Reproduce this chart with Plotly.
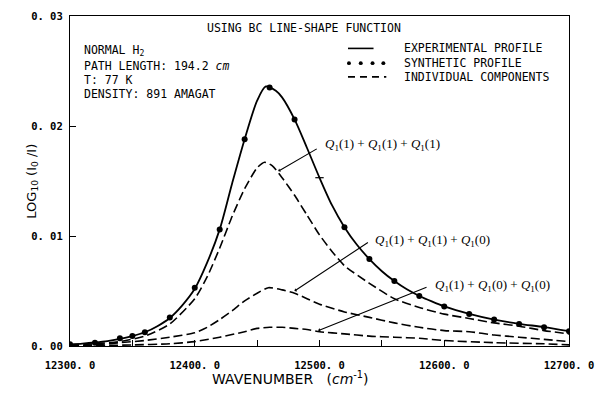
import plotly.graph_objects as go

# Experimental absorption profile (solid curve)
wn_exp = [12300, 12310, 12320, 12330, 12340, 12350, 12360, 12370, 12380, 12390,
          12400, 12410, 12420, 12430, 12440, 12450, 12457, 12465, 12470, 12480,
          12490, 12500, 12510, 12520, 12530, 12540, 12550, 12560, 12570, 12580,
          12590, 12600, 12620, 12640, 12660, 12680, 12700]
absorb_exp = [0.00015, 0.00022, 0.00032, 0.00045, 0.00065, 0.00090, 0.00125, 0.00180, 0.00255, 0.00370,
              0.00520, 0.00760, 0.01060, 0.01480, 0.01880, 0.02230, 0.02360, 0.02320, 0.02260, 0.02060,
              0.01800, 0.01530, 0.01280, 0.01080, 0.00920, 0.00790, 0.00680, 0.00590, 0.00515, 0.00455,
              0.00405, 0.00360, 0.00292, 0.00240, 0.00202, 0.00172, 0.00135]

# Synthetic profile (dots)
wn_syn = [12300, 12320, 12340, 12350, 12360, 12380, 12400, 12420, 12440, 12460, 12480,
          12520, 12540, 12560, 12580, 12600, 12620, 12640, 12660, 12680, 12700]
absorb_syn = [0.00015, 0.00030, 0.00070, 0.00090, 0.00125, 0.00260, 0.00530, 0.01060, 0.01880, 0.02350, 0.02060,
              0.01080, 0.00790, 0.00590, 0.00455, 0.00360, 0.00290, 0.00240, 0.00200, 0.00170, 0.00134]
# synthetic point at 12500 drawn as a short tick on the curve
wn_syn_tick = [12500]
absorb_syn_tick = [0.01530]

# Individual components (dashed)
wn_c1 = [12300, 12320, 12340, 12360, 12380, 12400, 12410, 12420, 12430, 12440, 12450, 12456,
         12462, 12470, 12480, 12490, 12500, 12510, 12520, 12540, 12560, 12580, 12600, 12620,
         12640, 12660, 12680, 12700]
absorb_c1 = [0.0001, 0.0002, 0.0004, 0.0009, 0.0020, 0.0043, 0.0063, 0.0089, 0.0118, 0.0143, 0.0162, 0.0167,
             0.0164, 0.0153, 0.0137, 0.0119, 0.0101, 0.0086, 0.0073, 0.0057, 0.0043, 0.0035, 0.0029, 0.0025,
             0.0021, 0.0018, 0.0014, 0.0011]

wn_c2 = [12300, 12320, 12340, 12360, 12380, 12400, 12410, 12420, 12430, 12440, 12450, 12459,
         12470, 12480, 12490, 12500, 12520, 12540, 12560, 12580, 12600, 12620, 12640, 12660,
         12680, 12700]
absorb_c2 = [0.0000, 0.0001, 0.0003, 0.0005, 0.0008, 0.0012, 0.0017, 0.0024, 0.0032, 0.0041, 0.0048, 0.0053,
             0.0051, 0.0048, 0.0043, 0.0038, 0.0031, 0.0026, 0.0021, 0.0017, 0.0014, 0.0013, 0.0010, 0.0008,
             0.0006, 0.0004]

wn_c3 = [12300, 12350, 12380, 12400, 12420, 12440, 12450, 12460, 12470, 12480, 12490, 12500,
         12520, 12540, 12560, 12580, 12600, 12640, 12680, 12700]
absorb_c3 = [0.0000, 0.0001, 0.0002, 0.0004, 0.0008, 0.0013, 0.0016, 0.0017, 0.0017, 0.0016, 0.0015, 0.0013,
             0.0011, 0.0009, 0.0008, 0.0007, 0.0005, 0.0003, 0.0002, 0.0001]

x_tick_vals = [12300, 12350, 12400, 12450, 12500, 12550, 12600, 12650, 12700]
x_tick_text = ["12300. 0", "", "12400. 0", "", "12500. 0", "", "12600. 0", "", "12700. 0"]
y_tick_vals = [0.00, 0.01, 0.02, 0.03]
y_tick_text = ["0. 00", "0. 01", "0. 02", "0. 03"]

component_labels = [
    "<i>Q</i><sub>1</sub>(1) + <i>Q</i><sub>1</sub>(1) + <i>Q</i><sub>1</sub>(1)",
    "<i>Q</i><sub>1</sub>(1) + <i>Q</i><sub>1</sub>(1) + <i>Q</i><sub>1</sub>(0)",
    "<i>Q</i><sub>1</sub>(1) + <i>Q</i><sub>1</sub>(0) + <i>Q</i><sub>1</sub>(0)",
]
# leader lines: (tail x, tail y, head x, head y) and label anchor (x, y)
leaders = [
    (12499, 0.0180, 12467, 0.0159),
    (12540, 0.0095, 12480, 0.0050),
    (12587, 0.0054, 12499, 0.0014),
]
label_pos = [(12503, 0.0183), (12543, 0.0096), (12591, 0.0055)]

MONO = "DejaVu Sans Mono"
SERIF = "Liberation Serif"
W, H = 604, 393
ML, MR, MT, MB = 70, 26, 10, 47
PW, PH = W - ML - MR, H - MT - MB


def px(xp):
    return (xp - ML) / PW


def py(yp):
    return (H - MB - yp) / PH


fig = go.Figure()

dash = "9px,4px"
for wx, wy in [(wn_c1, absorb_c1), (wn_c2, absorb_c2), (wn_c3, absorb_c3)]:
    fig.add_trace(go.Scatter(x=wx, y=wy, mode="lines",
                             line=dict(color="black", width=1.6, dash=dash, shape="spline", smoothing=0.6),
                             showlegend=False, hoverinfo="skip"))

fig.add_trace(go.Scatter(x=wn_exp, y=absorb_exp, mode="lines",
                         line=dict(color="black", width=1.8, shape="spline", smoothing=0.8),
                         showlegend=False))
fig.add_trace(go.Scatter(x=wn_syn, y=absorb_syn, mode="markers",
                         marker=dict(color="black", size=6), showlegend=False))
fig.add_trace(go.Scatter(x=wn_syn_tick, y=absorb_syn_tick, mode="markers",
                         marker=dict(symbol="line-ew", size=6, line=dict(color="black", width=1.2)),
                         showlegend=False))

annotations = []
for (tx, ty, hx, hy), (lx, ly), lab in zip(leaders, label_pos, component_labels):
    annotations.append(dict(x=hx, y=hy, ax=tx, ay=ty, xref="x", yref="y", axref="x", ayref="y",
                            text="", showarrow=True, arrowhead=1, arrowsize=0.6, arrowwidth=1.1,
                            arrowcolor="black", standoff=0, startstandoff=0))
    annotations.append(dict(x=lx, y=ly, xref="x", yref="y", text=lab, showarrow=False,
                            xanchor="left", yanchor="middle",
                            font=dict(family=SERIF, size=13, color="black")))

# header and run conditions
annotations.append(dict(x=px(308), y=py(22), xref="paper", yref="paper",
                        text="USING BC LINE-SHAPE FUNCTION", showarrow=False,
                        xanchor="center", yanchor="middle", font=dict(family=MONO, size=11.5, color="black")))
info = [("NORMAL H<sub>2</sub>", 45), ("PATH LENGTH: 194.2 <i>cm</i>", 61),
        ("T: 77 K", 75), ("DENSITY: 891 AMAGAT", 89)]
for txt, yy in info:
    annotations.append(dict(x=px(82), y=py(yy), xref="paper", yref="paper", text=txt,
                            showarrow=False, xanchor="left", yanchor="middle",
                            font=dict(family=MONO, size=11.5, color="black")))

# key
key = [("EXPERIMENTAL PROFILE", 43), ("SYNTHETIC PROFILE", 58), ("INDIVIDUAL COMPONENTS", 72)]
for txt, yy in key:
    annotations.append(dict(x=px(408), y=py(yy), xref="paper", yref="paper", text=txt,
                            showarrow=False, xanchor="left", yanchor="middle",
                            font=dict(family=MONO, size=11.5, color="black")))

shapes = [
    dict(type="line", xref="paper", yref="paper", x0=px(353), x1=px(379), y0=py(43), y1=py(43),
         line=dict(color="black", width=1.6)),
    dict(type="line", xref="paper", yref="paper", x0=px(353), x1=px(392), y0=py(72), y1=py(72),
         line=dict(color="black", width=1.6, dash="7px,5px")),
]
for cx in [354, 366, 378, 389]:
    shapes.append(dict(type="circle", xref="paper", yref="paper",
                       x0=px(cx - 2), x1=px(cx + 2), y0=py(58 + 2), y1=py(58 - 2),
                       fillcolor="black", line=dict(color="black", width=0)))

# axis titles
annotations.append(dict(x=px(294), y=py(379), xref="paper", yref="paper",
                        text="WAVENUMBER&nbsp;&nbsp;&nbsp;(<i>cm</i><sup>-1</sup>)", showarrow=False,
                        xanchor="center", yanchor="middle",
                        font=dict(family="DejaVu Sans", size=14, color="black")))
annotations.append(dict(x=px(31), y=py(178), xref="paper", yref="paper",
                        text="LOG<sub>10</sub> (I<sub>0</sub> /I)", showarrow=False, textangle=-90,
                        xanchor="center", yanchor="middle",
                        font=dict(family="DejaVu Sans", size=13, color="black")))

tick_font = dict(family=MONO, size=10.5, color="black", weight="bold")

fig.update_layout(
    width=W, height=H, autosize=False,
    margin=dict(l=ML, r=MR, t=MT, b=MB),
    paper_bgcolor="white", plot_bgcolor="white",
    showlegend=False,
    annotations=annotations, shapes=shapes,
    xaxis=dict(range=[12300, 12700], tickvals=x_tick_vals, ticktext=x_tick_text,
               ticks="inside", ticklen=6, tickwidth=1.2, tickcolor="black",
               showline=True, linecolor="black", linewidth=1.3, mirror=True,
               showgrid=False, zeroline=False, ticklabelstandoff=9,
               tickfont=tick_font),
    yaxis=dict(range=[0, 0.03], tickvals=y_tick_vals, ticktext=y_tick_text,
               ticks="inside", ticklen=6, tickwidth=1.2, tickcolor="black",
               showline=True, linecolor="black", linewidth=1.3, mirror=True,
               showgrid=False, zeroline=False, ticklabelstandoff=4,
               tickfont=tick_font),
)

fig.write_html("out.html")
